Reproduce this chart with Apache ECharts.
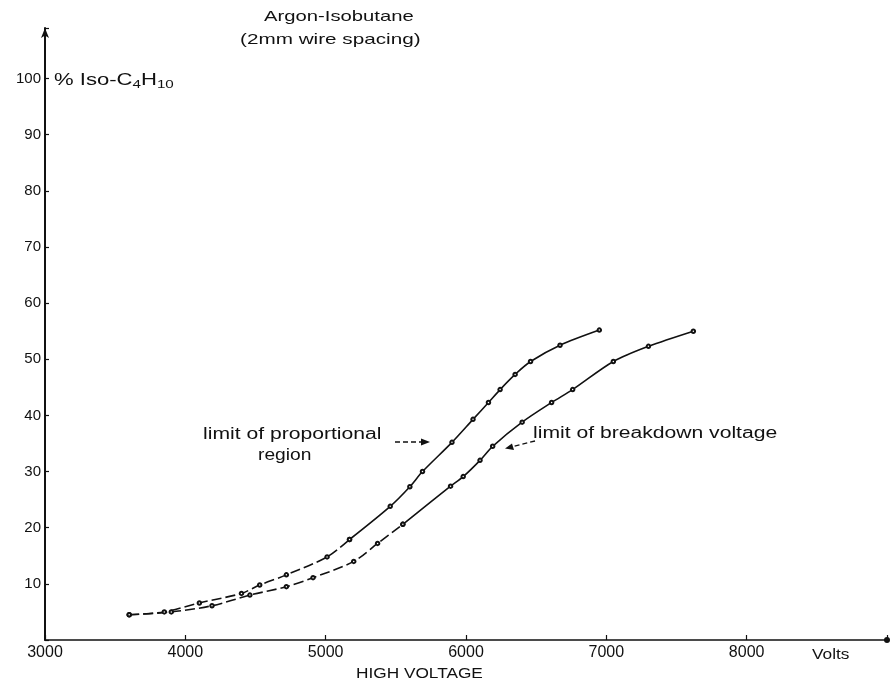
<!DOCTYPE html>
<html>
<head>
<meta charset="utf-8">
<title>Argon-Isobutane</title>
<script src="https://cdn.jsdelivr.net/npm/echarts@6/dist/echarts.min.js"></script>
<style>
  html, body { margin: 0; padding: 0; background: #ffffff; }
  #chart { width: 893px; height: 686px; }
</style>
</head>
<body>
<div id="chart"></div>
<script>
// Limit of proportional region: high voltage (V) vs % iso-C4H10
const propVolts = [3600, 3850, 4100, 4400, 4530, 4720, 5010, 5170, 5460, 5600, 5690, 5900, 6050, 6160, 6243, 6350, 6460, 6670, 6950];
const propPct   = [4.5, 5.0, 6.6, 8.3, 9.8, 11.6, 14.8, 17.9, 23.8, 27.3, 30.0, 35.2, 39.3, 42.3, 44.6, 47.3, 49.6, 52.5, 55.2];

// Limit of breakdown voltage
const brkVolts = [3600, 3900, 4190, 4460, 4720, 4910, 5200, 5370, 5550, 5890, 5980, 6100, 6190, 6400, 6610, 6760, 7050, 7300, 7620];
const brkPct   = [4.5, 5.0, 6.1, 8.0, 9.5, 11.1, 14.0, 17.2, 20.6, 27.4, 29.1, 32.0, 34.5, 38.8, 42.3, 44.6, 49.6, 52.3, 55.0];

// Axis ticks
const xTicks = [3000, 4000, 5000, 6000, 7000, 8000];
const yTicks = [10, 20, 30, 40, 50, 60, 70, 80, 90, 100];

// Index where each curve changes from its dashed lower run to the solid upper run
const propSplit = 7;
const brkSplit = 8;

const pairs = (xs, ys) => xs.map((x, i) => [x, ys[i]]);
const font = 'Liberation Sans';
const ink = '#111111';

function curve(name, pts, dashed) {
  return {
    name: name,
    type: 'line',
    smooth: 0.3,
    data: pts,
    symbol: 'emptyCircle',
    symbolSize: 3.5,
    lineStyle: { color: ink, width: 1.6, type: dashed ? [10, 4] : 'solid' },
    itemStyle: { color: ink, borderColor: ink, borderWidth: 1 }
  };
}

const prop = pairs(propVolts, propPct);
const brk = pairs(brkVolts, brkPct);

const chart = echarts.init(document.getElementById('chart'), null, { renderer: 'canvas' });

chart.setOption({
  animation: false,
  backgroundColor: '#ffffff',
  grid: { left: 45, right: 6, top: 28, bottom: 46, containLabel: false },
  xAxis: {
    type: 'value',
    min: 3000,
    max: 9000,
    interval: 1000,
    axisLine: { show: true, symbol: ['none', 'circle'], symbolSize: [6, 6], lineStyle: { color: ink, width: 1.5 } },
    axisTick: { show: true, inside: true, length: 5, lineStyle: { color: ink, width: 1.2 } },
    splitLine: { show: false },
    axisLabel: {
      color: ink, fontFamily: font, fontSize: 16, margin: 5,
      formatter: v => (xTicks.includes(v) ? String(v) : '')
    }
  },
  yAxis: {
    type: 'value',
    min: 0,
    max: 109,
    interval: 10,
    axisLine: { show: true, symbol: ['none', 'arrow'], symbolSize: [6, 10], lineStyle: { color: ink, width: 2 } },
    axisTick: { show: true, inside: true, length: 4, lineStyle: { color: ink, width: 1.2 } },
    splitLine: { show: false },
    axisLabel: {
      color: ink, fontFamily: font, fontSize: 15, margin: 4,
      formatter: v => (yTicks.includes(v) ? String(v) : '')
    }
  },
  series: [
    curve('limit of proportional region', prop.slice(0, propSplit + 1), true),
    curve('limit of proportional region', prop.slice(propSplit), false),
    curve('limit of breakdown voltage', brk.slice(0, brkSplit + 1), true),
    curve('limit of breakdown voltage', brk.slice(brkSplit), false)
  ],
  graphic: [
    // Title
    { type: 'text', left: 264, top: 9, scaleX: 1.35,
      style: { text: 'Argon-Isobutane', font: '15px ' + font, fill: ink } },
    { type: 'text', left: 240, top: 32, scaleX: 1.38,
      style: { text: '(2mm wire spacing)', font: '15px ' + font, fill: ink } },
    // Vertical axis name with subscripts
    { type: 'text', left: 54, top: 73, scaleX: 1.38,
      style: {
        text: '{n|% Iso-C}{s|4}{n|H}{s|10}',
        rich: {
          n: { font: '16px ' + font, fill: ink },
          s: { font: '11px ' + font, fill: ink, padding: [8, 0, 0, 0] }
        }
      } },
    // Horizontal axis name and unit
    { type: 'text', left: 356, top: 666, scaleX: 1.15,
      style: { text: 'HIGH VOLTAGE', font: '15px ' + font, fill: ink } },
    { type: 'text', left: 812, top: 647, scaleX: 1.15,
      style: { text: 'Volts', font: '15px ' + font, fill: ink } },
    // Annotation for the proportional-region curve
    { type: 'text', left: 203, top: 427, scaleX: 1.32,
      style: { text: 'limit of proportional', font: '16px ' + font, fill: ink } },
    { type: 'text', left: 258, top: 448, scaleX: 1.2,
      style: { text: 'region', font: '16px ' + font, fill: ink } },
    { type: 'line', shape: { x1: 395, y1: 442, x2: 422, y2: 442 },
      style: { stroke: ink, lineWidth: 1.3, lineDash: [5, 3] } },
    { type: 'polygon', shape: { points: [[430, 442], [421, 438.5], [421, 445.5]] },
      style: { fill: ink } },
    // Annotation for the breakdown curve
    { type: 'text', left: 533, top: 426, scaleX: 1.32,
      style: { text: 'limit of breakdown voltage', font: '16px ' + font, fill: ink } },
    { type: 'line', shape: { x1: 535, y1: 441, x2: 513, y2: 446.5 },
      style: { stroke: ink, lineWidth: 1.3, lineDash: [5, 3] } },
    { type: 'polygon', shape: { points: [[505, 448.5], [512, 443.5], [514, 450]] },
      style: { fill: ink } }
  ]
});
</script>
</body>
</html>
